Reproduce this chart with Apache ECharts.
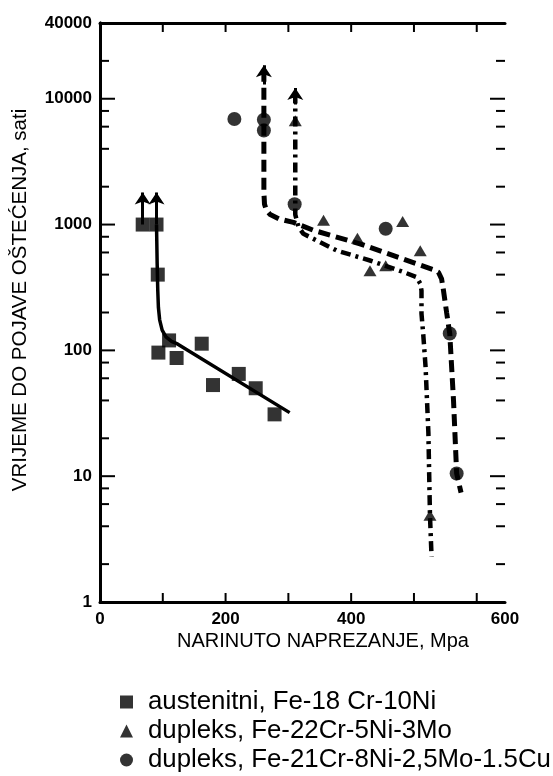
<!DOCTYPE html>
<html>
<head>
<meta charset="utf-8">
<script src="https://cdn.jsdelivr.net/npm/echarts@6/dist/echarts.min.js"></script>
<style>html,body{margin:0;padding:0;background:#fff}#chart{width:553px;height:776px}</style>
</head>
<body>
<div id="chart"></div>
<script>
// tick values / labels
var xTicks = [100, 200, 300, 400, 500, 600];
var xLabelValues = [0, 200, 400, 645];
var xLabelText = ['0', '200', '400', '600'];
var yLabels = [1, 10, 100, 1000, 10000, 40000];
var yMajor = [10, 100, 1000, 10000];
var yMinor = [2, 4, 6, 8, 20, 40, 60, 80, 200, 400, 600, 800, 2000, 4000, 6000, 8000, 20000];

var legendData = ['austenitni, Fe-18 Cr-10Ni', 'dupleks, Fe-22Cr-5Ni-3Mo', 'dupleks, Fe-21Cr-8Ni-2,5Mo-1.5Cu'];

// measured points [MPa, hours]
var austenitni = [[68,1000],[90,1000],[92,400],[93,96],[110,120],[122,87],[162,113],[180,53],[221,65],[248,50],[278,31]];
var dupleks22 = [[311,6700],[356,1080],[410,780],[430,430],[455,470],[482,1060],[510,620],[525.5,4.9]];
var dupleks21 = [[214,6900],[261,6800],[261,5600],[310,1450],[455,925],[557,136],[568,10.5]];

// fitted curves
var austCurve = [[90,1000],[91,500],[92,300],[93,220],[95,175],[99,145],[105,128],[114,118],[124,112],[302,32]];
var dashCurve = [[261,17000],[261,1800],[262,1450],[265,1300],[271,1200],[285,1110],[308,1040],[340,900],[414,703],[504,488],[530,440],[539,418],[544,370],[547,300],[552,200],[557,136],[563,40],[568,10.5],[575,7.4]];
var dashDotCurve = [[311,11000],[311,6700],[311,1450],[311,1200],[316,960],[324,844],[377,622],[430,518],[483,420],[504,382],[510,340],[512,299],[512,196],[515,130],[518.5,74],[523,22],[525.5,4.9],[528,2.3]];

// run-out arrows (no failure)
var arrows = [[[68,1000],[68,1800]], [[90,1000],[90,1800]], [[261,13000],[261,18500]], [[311,9000],[311,12200]]];

var tickFont = {fontFamily: 'Liberation Sans', fontWeight: 'bold', fontSize: 17, color: '#000'};
var frame = {show: true, lineStyle: {color: '#000', width: 3}};

// tick marks drawn inward on both sides of the box
var yTickData = yMajor.map(function (v) { return [0, v, 15]; }).concat(yMinor.map(function (v) { return [0, v, 9]; }));
var xTickData = xTicks.map(function (v) { return [v, 1, 9]; });

function tickItem(vertical) {
    return function (params, api) {
        var rect = params.coordSys;
        var len = api.value(2);
        var p = api.coord([api.value(0), api.value(1)]);
        var st = {stroke: '#000', lineWidth: 2};
        if (vertical) {
            return {type: 'group', children: [
                {type: 'line', shape: {x1: rect.x, y1: p[1], x2: rect.x + len, y2: p[1]}, style: st},
                {type: 'line', shape: {x1: rect.x + rect.width - len, y1: p[1], x2: rect.x + rect.width, y2: p[1]}, style: st}
            ]};
        }
        return {type: 'group', children: [
            {type: 'line', shape: {x1: p[0], y1: rect.y + rect.height, x2: p[0], y2: rect.y + rect.height - len}, style: st},
            {type: 'line', shape: {x1: p[0], y1: rect.y, x2: p[0], y2: rect.y + len}, style: st}
        ]};
    };
}

var option = {
    backgroundColor: '#fff',
    animation: false,
    grid: {left: 100, right: 48, top: 23, bottom: 174},
    xAxis: [
        {
            type: 'value', min: 0, max: 645, position: 'bottom',
            axisLine: frame, splitLine: {show: false}, axisTick: {show: false},
            axisLabel: {show: true, margin: 9, customValues: xLabelValues, formatter: function (v) {
                var i = xLabelValues.indexOf(v); return i < 0 ? '' : xLabelText[i]; }, ...tickFont}
        },
        {
            type: 'value', min: 0, max: 645, position: 'top',
            axisLine: frame, splitLine: {show: false}, axisTick: {show: false}, axisLabel: {show: false}
        }
    ],
    yAxis: [
        {
            type: 'log', logBase: 10, min: 1, max: 40000, position: 'left',
            axisLine: frame, splitLine: {show: false}, axisTick: {show: false},
            axisLabel: {show: true, margin: 8, customValues: yLabels, formatter: function (v) { return String(Math.round(v)); }, ...tickFont}
        },
        {
            type: 'log', logBase: 10, min: 1, max: 40000, position: 'right',
            axisLine: frame, splitLine: {show: false}, axisTick: {show: false}, axisLabel: {show: false}
        }
    ],
    legend: {
        orient: 'vertical', left: 115, top: 684, height: 90, itemGap: 3,
        itemWidth: 13, itemHeight: 13,
        data: [
            {name: legendData[0], icon: 'rect'},
            {name: legendData[1], icon: 'triangle'},
            {name: legendData[2], icon: 'circle'}
        ],
        textStyle: {fontFamily: 'Liberation Sans', fontSize: 25.8, lineHeight: 25, color: '#000', padding: [0, 0, 0, 10]}
    },
    graphic: [
        {type: 'text', x: 323, y: 641, style: {text: 'NARINUTO NAPREZANJE, Mpa', font: '20px "Liberation Sans"', fill: '#000', textAlign: 'center', textVerticalAlign: 'middle'}},
        {type: 'text', x: 20, y: 300, rotation: Math.PI / 2, style: {text: 'VRIJEME DO POJAVE OŠTEĆENJA, sati', font: '20.5px "Liberation Sans"', fill: '#000', textAlign: 'center', textVerticalAlign: 'middle'}}
    ],
    series: [
        {type: 'custom', renderItem: tickItem(true), data: yTickData, silent: true, clip: false},
        {type: 'custom', renderItem: tickItem(false), data: xTickData, silent: true, clip: false},
        {type: 'line', data: austCurve, symbol: 'none', lineStyle: {color: '#000', width: 3.5}, silent: true},
        {type: 'line', data: dashCurve, symbol: 'none', lineStyle: {color: '#000', width: 5, type: [12, 6]}, silent: true},
        {type: 'line', data: dashDotCurve, symbol: 'none', lineStyle: {color: '#000', width: 4.5, type: [10, 5, 3, 5]}, silent: true},
        {
            type: 'lines', coordinateSystem: 'cartesian2d', symbol: ['none', 'arrow'], symbolSize: [9, 12],
            lineStyle: {color: '#000', width: 3, opacity: 1}, silent: true,
            data: arrows.map(function (a) { return {coords: a}; })
        },
        {name: legendData[0], type: 'scatter', symbol: 'rect', symbolSize: 14, itemStyle: {color: '#000'}, data: austenitni},
        {name: legendData[1], type: 'scatter', symbol: 'triangle', symbolSize: [13, 11], itemStyle: {color: '#000'}, data: dupleks22},
        {name: legendData[2], type: 'scatter', symbol: 'circle', symbolSize: 14, itemStyle: {color: '#000'}, data: dupleks21}
    ]
};

var myChart = echarts.init(document.getElementById('chart'));
myChart.setOption(option);
</script>
</body>
</html>
